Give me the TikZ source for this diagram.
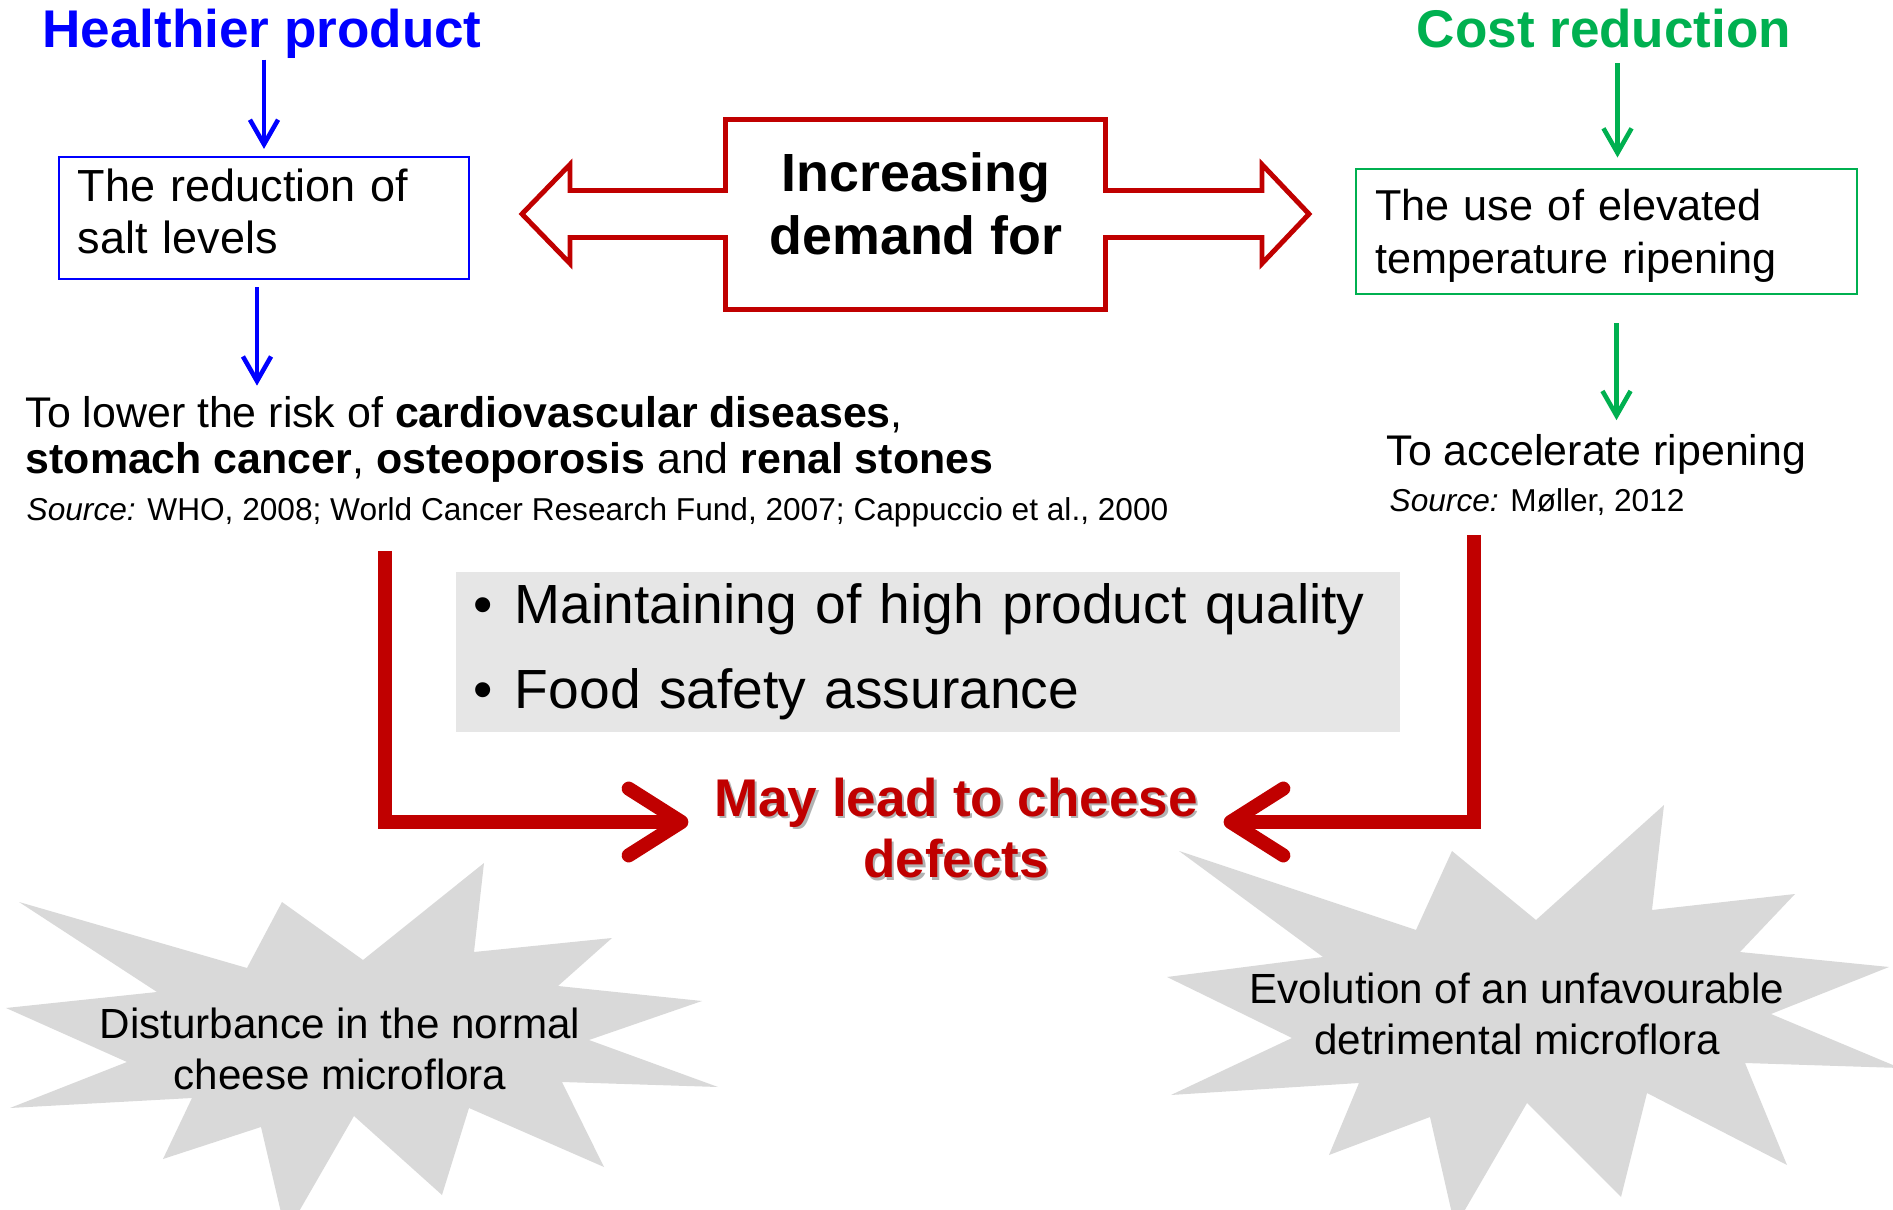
\documentclass[tikz,border=0pt]{standalone}
\usepackage{fontspec}
\setmainfont{Liberation Sans}
\usepackage{tikz}
\usetikzlibrary{shapes,arrows,arrows.meta,positioning}
\definecolor{hblue}{RGB}{0,0,255}
\definecolor{cgreen}{RGB}{0,176,80}
\definecolor{dred}{RGB}{192,0,0}
\definecolor{qgrey}{RGB}{230,230,230}
\definecolor{sgrey}{RGB}{217,217,217}
\tikzstyle{goal} = [inner sep=0pt, anchor=base, font=\fontsize{15.1}{17}\selectfont\bfseries]
\tikzstyle{tbox} = [draw, line width=0.6pt, minimum height=1.22cm, inner xsep=0.19cm, align=left]
\tikzstyle{txt} = [inner sep=0pt, anchor=base west, font=\fontsize{12.2}{15}\selectfont]
\tikzstyle{src} = [inner sep=0pt, anchor=base west, font=\fontsize{9}{11}\selectfont]
\tikzstyle{line} = [draw, line width=1.3pt, -{Straight Barb[length=7pt,width=8pt]}]
\tikzstyle{bigline} = [draw=dred, line width=4pt, -{Straight Barb[length=15pt,width=19pt,round]}]
\tikzstyle{dbl} = [draw=dred, line width=1.4pt, fill=white]
\tikzstyle{demand} = [align=center, font=\fontsize{15.3}{18}\selectfont\bfseries]
\tikzstyle{aims} = [fill=qgrey, minimum width=9.44cm, minimum height=1.56cm, text width=9.1cm, inner xsep=0.17cm, align=left, font=\fontsize{15.7}{24.2}\selectfont]
\tikzstyle{defect} = [align=center, inner xsep=0.25cm, font=\fontsize{15.1}{17.6}\selectfont\bfseries]
\tikzstyle{burst} = [fill=sgrey]
\tikzstyle{star} = [align=center, font=\fontsize{12}{14.5}\selectfont]
\newcommand{\dotitem}{\makebox[0.42cm][l]{\textbullet}}

\begin{document}
\begin{tikzpicture}
			\clip (0,0) rectangle (18.93,-12.10);

			\node [goal, text=hblue] (healthy) at (2.62,-0.48) {Healthier product};
			\node [tbox, draw=hblue, text width=3.72cm, font=\fontsize{12.8}{14.7}\selectfont] (salt) at (2.64,-2.18) {The reduction of\\salt levels\rule[-0.14cm]{0pt}{0pt}};
			\node [txt] (risk) at (0.25,-4.28) {To lower the risk of \textbf{cardiovascular diseases},};
			\node [txt] (organs) at (0.25,-4.74) {\textbf{stomach cancer}, \textbf{osteoporosis} and \textbf{renal stones}};
			\node [src] (srcleft) at (0.26,-5.21) {{\itshape Source:} WHO, 2008; World Cancer Research Fund, 2007; Cappuccio et al., 2000};

			\node [goal, text=cgreen] (cost) at (16.04,-0.48) {Cost reduction};
			\node [tbox, draw=cgreen, text width=4.63cm, font=\fontsize{12.3}{14.9}\selectfont] (ripen) at (16.065,-2.315) {\rule{0pt}{0.40cm}The use of elevated\\temperature ripening};
			\node [txt] (accel) at (13.86,-4.66) {To accelerate ripening};
			\node [src] (srcright) at (13.89,-5.12) {{\itshape Source:} Møller, 2012};

			\path [line, hblue, shorten >=2pt] (salt.north |- healthy.south) -- (salt.north);
			\path [line, hblue, shorten <=2pt, shorten >=3pt] ([xshift=-0.07cm]salt.south) -- ([xshift=-0.07cm]salt.south |- risk.north);
			\path [line, cgreen, shorten <=4pt, shorten >=3pt] ([xshift=0.11cm]ripen.north |- cost.south) -- ([xshift=0.11cm]ripen.north);
			\path [line, cgreen, shorten <=8pt, shorten >=4pt] ([xshift=0.1cm]ripen.south) -- ([xshift=0.1cm]ripen.south |- accel.north);

			\draw [dbl] (7.255,-1.905) -- (5.70,-1.905) -- (5.70,-1.645) -- (5.22,-2.14) -- (5.70,-2.635) -- (5.70,-2.375)
				-- (7.255,-2.375) -- (7.255,-3.095) -- (11.055,-3.095) -- (11.055,-2.375) -- (12.62,-2.375) -- (12.62,-2.635)
				-- (13.09,-2.14) -- (12.62,-1.645) -- (12.62,-1.905) -- (11.055,-1.905) -- (11.055,-1.195) -- (7.255,-1.195) -- cycle;
			\node [demand] (demand) at (9.16,-2.04) {Increasing\\demand for};

			\node [aims] (aims) at (9.28,-6.52) {\dotitem Maintaining of high product quality\\\dotitem Food safety assurance};

			\fill [burst] (4.84,-8.63) -- (4.74,-9.52) -- (6.12,-9.38) -- (5.58,-9.86) -- (7.02,-10.01) -- (5.89,-10.40)
				-- (7.18,-10.87) -- (5.62,-10.82) -- (6.04,-11.67) -- (4.69,-11.08) -- (4.42,-11.95) -- (3.54,-11.16)
				-- (2.86,-12.34) -- (2.61,-11.27) -- (1.63,-11.59) -- (1.92,-10.98) -- (0.10,-11.08) -- (1.27,-10.62)
				-- (0.06,-10.08) -- (1.57,-9.92) -- (0.19,-9.02) -- (2.47,-9.68) -- (2.82,-9.02) -- (3.63,-9.60) -- cycle;
			\fill [burst] (16.64,-8.05) -- (16.52,-9.10) -- (17.95,-8.94) -- (17.40,-9.52) -- (18.89,-9.67) -- (17.71,-10.14)
				-- (19.00,-10.68) -- (17.45,-10.63) -- (17.87,-11.65) -- (16.47,-10.93) -- (16.21,-11.97) -- (15.27,-11.03)
				-- (14.55,-12.27) -- (14.30,-11.17) -- (13.29,-11.55) -- (13.59,-10.83) -- (11.71,-10.95) -- (12.92,-10.38)
				-- (11.67,-9.77) -- (13.23,-9.57) -- (11.79,-8.51) -- (14.16,-9.30) -- (14.52,-8.51) -- (15.36,-9.20) -- cycle;
			\node [star] (disturb) at (3.40,-10.49) {Disturbance in the normal\\cheese microflora};
			\node [star] (evolve) at (15.17,-10.14) {Evolution of an unfavourable\\detrimental microflora};

			\node [defect, text=black!30] (defectshadow) at (9.585,-8.305) {May lead to cheese\\defects};
			\node [defect, text=dred] (defect) at (9.56,-8.28) {May lead to cheese\\defects};
			\coordinate (lefttop) at (3.85,-5.51);
			\coordinate (righttop) at (14.74,-5.35);
			\path [bigline] (lefttop) |- ([yshift=0.06cm]defect.west);
			\path [bigline] (righttop) |- ([yshift=0.06cm]defect.east);
		\end{tikzpicture}
\end{document}
